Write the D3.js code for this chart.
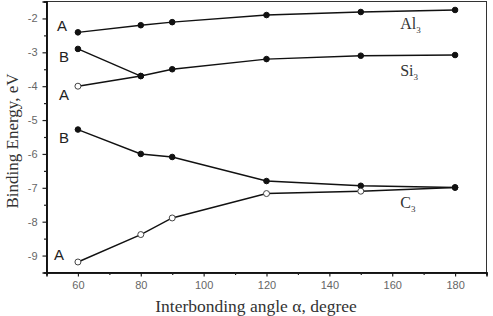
<!DOCTYPE html>
<html>
<head>
<meta charset="utf-8">
<script src="https://cdn.jsdelivr.net/npm/d3@7"></script>
<style>
  body { margin: 0; background: #fff; }
  svg { display: block; }
</style>
</head>
<body>
<svg id="chart" width="493" height="316"></svg>
<script>
// chart data
const angles = [60, 80, 90, 120, 150, 180];
const al3A = [-2.41, -2.2, -2.11, -1.9, -1.81, -1.75];
const si3A = [-4.0, -3.7, -3.5, -3.2, -3.1, -3.08];
const si3BAngles = [60, 80];
const si3B = [-2.9, -3.7];
const c3B = [-5.28, -6.0, -6.09, -6.8, -6.94, -6.99];
const c3A = [-9.19, -8.38, -7.89, -7.17, -7.1, -6.99];
const xTicks = [60, 80, 100, 120, 140, 160, 180];
const yTicks = [-9, -8, -7, -6, -5, -4, -3, -2];

const svg = d3.select("#chart");
const margin = { left: 46.5, right: 6.5, top: 1.5, bottom: 43.5 };
const width = 493, height = 316;

const x = d3.scaleLinear().domain([50, 190]).range([margin.left, width - margin.right]);
const y = d3.scaleLinear().domain([-9.5, -1.5]).range([height - margin.bottom, margin.top]);

// frame
svg.append("rect")
    .attr("x", x(50))
    .attr("y", y(-1.5))
    .attr("width", x(190) - x(50))
    .attr("height", y(-9.5) - y(-1.5))
    .attr("fill", "none")
    .attr("stroke", "#333")
    .attr("stroke-width", 1);

// axes
svg.append("g")
    .attr("transform", `translate(0,${y(-9.5)})`)
    .call(d3.axisBottom(x).tickValues(xTicks).tickSize(4).tickPadding(5));
svg.append("g")
    .attr("transform", `translate(0,${y(-9.5)})`)
    .call(d3.axisBottom(x).tickValues(d3.range(70, 190, 20)).tickSize(2.5).tickFormat(""));

svg.append("g")
    .attr("transform", `translate(${x(50)},0)`)
    .call(d3.axisLeft(y).tickValues(yTicks).tickSize(4).tickPadding(5).tickFormat(d3.format("d")));
svg.append("g")
    .attr("transform", `translate(${x(50)},0)`)
    .call(d3.axisLeft(y).tickValues(d3.range(-9.5, -1.5, 1)).tickSize(2.5).tickFormat(""));

svg.selectAll(".domain").attr("stroke", "#111").attr("stroke-width", 1.6);
svg.selectAll(".tick line").attr("stroke", "#222").attr("stroke-width", 1.2);
svg.selectAll(".tick text")
    .attr("fill", "#666")
    .attr("font-family", "Liberation Sans, Arial, sans-serif")
    .attr("font-size", 11);
svg.selectAll(".tick text").filter(function() { return this.textContent.startsWith("−"); })
    .text(function() { return this.textContent.replace("−", "-"); });

// series
const line = d3.line().x(d => x(d[0])).y(d => y(d[1]));
const pts = (xs, ys) => xs.map((a, i) => [a, ys[i]]);

const series = [
    { data: pts(angles, al3A), open: [] },
    { data: pts(angles, si3A), open: [0] },
    { data: pts(si3BAngles, si3B), open: [] },
    { data: pts(angles, c3B), open: [] },
    { data: pts(angles, c3A), open: [0, 1, 2, 3, 4] }
];

series.forEach(s => {
    svg.append("path")
        .datum(s.data)
        .attr("d", line)
        .attr("fill", "none")
        .attr("stroke", "#111")
        .attr("stroke-width", 1.4);
});
series.forEach(s => {
    svg.selectAll(null)
        .data(s.data)
        .join("circle")
        .attr("cx", d => x(d[0]))
        .attr("cy", d => y(d[1]))
        .attr("r", (d, i) => s.open.includes(i) ? 3 : 2.8)
        .attr("fill", (d, i) => s.open.includes(i) ? "#fff" : "#111")
        .attr("stroke", (d, i) => s.open.includes(i) ? "#444" : "#111")
        .attr("stroke-width", 1);
});

// branch labels A / B
const branchLabels = [
    { t: "A", v: -2.4, dx: -21, dy: -1 },
    { t: "B", v: -2.9, dx: -19, dy: 13 },
    { t: "A", v: -4.0, dx: -19, dy: 14 },
    { t: "B", v: -5.28, dx: -19, dy: 13 },
    { t: "A", v: -9.19, dx: -24, dy: -2 }
];
svg.selectAll(null)
    .data(branchLabels)
    .join("text")
    .attr("x", d => x(60) + d.dx)
    .attr("y", d => y(d.v) + d.dy)
    .attr("font-family", "Liberation Sans, Arial, sans-serif")
    .attr("font-size", 15)
    .attr("fill", "#222")
    .text(d => d.t);

// molecule labels
const molLabels = [
    { base: "Al", v: -1.75, dy: 19 },
    { base: "Si", v: -3.08, dy: 21 },
    { base: "C", v: -6.99, dy: 21 }
];
molLabels.forEach(m => {
    const t = svg.append("text")
        .attr("x", x(160) + 8)
        .attr("y", y(m.v) + m.dy)
        .attr("font-family", "Liberation Serif, Times New Roman, serif")
        .attr("font-size", 16)
        .attr("fill", "#333")
        .text(m.base);
    t.append("tspan")
        .attr("font-size", 9)
        .attr("dy", 4)
        .text("3");
});

// axis titles
svg.append("text")
    .attr("x", 256)
    .attr("y", 312)
    .attr("text-anchor", "middle")
    .attr("font-family", "Liberation Serif, Times New Roman, serif")
    .attr("font-size", 17.5)
    .attr("fill", "#333")
    .text("Interbonding angle α, degree");

svg.append("text")
    .attr("transform", `translate(18,141) rotate(-90)`)
    .attr("text-anchor", "middle")
    .attr("font-family", "Liberation Serif, Times New Roman, serif")
    .attr("font-size", 17)
    .attr("fill", "#333")
    .text("Binding Energy, eV");
</script>
</body>
</html>
